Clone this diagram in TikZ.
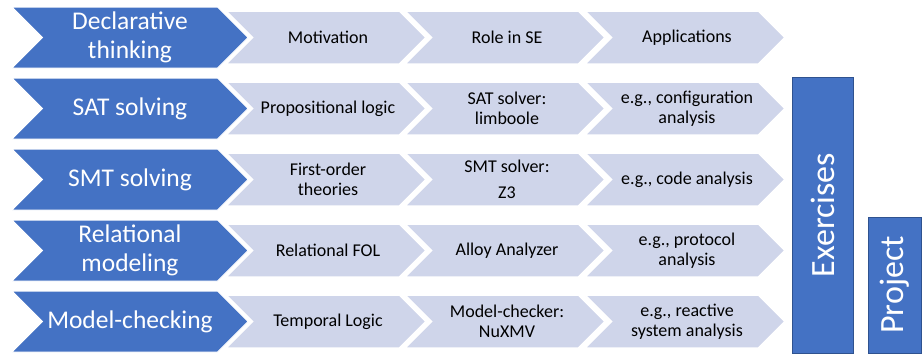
\documentclass[tikz,border=0pt]{standalone}
\usepackage{fontspec}
\setmainfont{Carlito}
\definecolor{cblue}{HTML}{4472C4}
\definecolor{cgray}{HTML}{CFD5EA}
\definecolor{cdark}{HTML}{2F528F}
\newcommand{\chevshape}[5]{% style, x, ytop, w, h
  \path[#1] (#2,#3) -- ({#2+#4-#5/2},#3) -- ({#2+#4},{#3+#5/2}) -- ({#2+#4-#5/2},{#3+#5}) -- (#2,{#3+#5}) -- ({#2+#5/2},{#3+#5/2}) -- cycle;}
\tikzset{
  bluechev/.style={fill=cblue, draw=white, line width=1pt, line join=miter},
  graychev/.style={fill=cgray, draw=white, line width=1.5pt, line join=miter},
  bluetext/.style={text=white, align=center, inner sep=0pt, font=\fontsize{25.5}{29}\selectfont},
  graytext/.style={text=black, align=center, inner sep=0pt, font=\fontsize{18}{20}\selectfont},
  sidebox/.style={fill=cblue, draw=cdark, line width=0.8pt, inner sep=0pt, text=white, font=\fontsize{34}{40}\selectfont, rotate=90}
}
\begin{document}
\begin{tikzpicture}[x=1pt,y=-1pt]
\useasboundingbox (0,0) rectangle (922,354);
% rows
\foreach \r in {0,...,4}{
  \pgfmathsetmacro{\yt}{7+71*\r}
  \pgfmathsetmacro{\yg}{11+71*\r}
  \chevshape{graychev}{585}{\yg}{200}{53}
  \chevshape{graychev}{405}{\yg}{200}{53}
  \chevshape{graychev}{226}{\yg}{200}{53}
  \chevshape{bluechev}{12}{\yt}{236}{61}
}
% row 1
\node[bluetext] (b1) at (130,37.5) {Declarative\\thinking};
\node[graytext] (g11) at (328,37.5) {Motivation};
\node[graytext] (g12) at (507,37.5) {Role in SE};
\node[graytext] (g13) at (687,37.5) {Applications};
% row 2
\node[bluetext] (b2) at (130,108.5) {SAT solving};
\node[graytext] (g21) at (328,108.5) {Propositional logic};
\node[graytext] (g22) at (507,108.5) {SAT solver:\\limboole};
\node[graytext] (g23) at (687,108.5) {e.g., configuration\\analysis};
% row 3
\node[bluetext] (b3) at (130,179.5) {SMT solving};
\node[graytext] (g31) at (328,179.5) {First-order\\theories};
\node[graytext] (g32) at (507,179.5) {SMT solver:\\[6pt]Z3};
\node[graytext] (g33) at (687,179.5) {e.g., code analysis};
% row 4
\node[bluetext] (b4) at (130,250.5) {Relational\\modeling};
\node[graytext] (g41) at (328,250.5) {Relational FOL};
\node[graytext] (g42) at (507,250.5) {Alloy Analyzer};
\node[graytext] (g43) at (687,250.5) {e.g., protocol\\analysis};
% row 5
\node[bluetext] (b5) at (130,321.5) {Model-checking};
\node[graytext] (g51) at (328,321.5) {Temporal Logic};
\node[graytext] (g52) at (507,321.5) {Model-checker:\\NuXMV};
\node[graytext] (g53) at (687,321.5) {e.g., reactive\\system analysis};
% side boxes
\node[sidebox, minimum width=276pt, minimum height=61pt] (ex) at (822.5,215) {Exercises};
\node[sidebox, minimum width=136pt, minimum height=53pt] (pr) at (894.5,285) {Project};
\end{tikzpicture}
\end{document}
